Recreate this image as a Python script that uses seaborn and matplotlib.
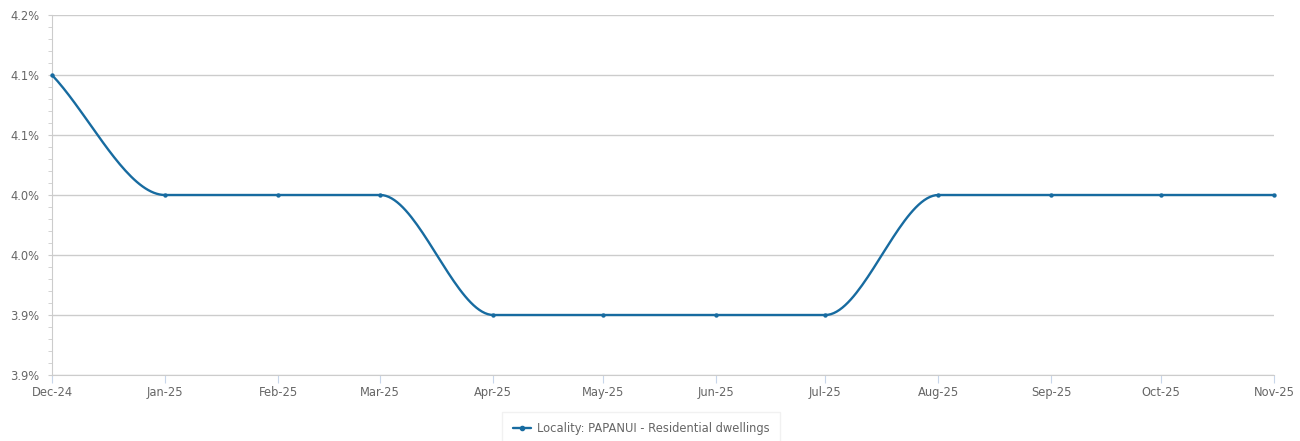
import numpy as np
import pandas as pd
import seaborn as sns
import matplotlib.pyplot as plt
import matplotlib.dates as mdates
from matplotlib.ticker import FixedLocator, MultipleLocator

months = ["2024-12-01", "2025-01-01", "2025-02-01", "2025-03-01", "2025-04-01",
          "2025-05-01", "2025-06-01", "2025-07-01", "2025-08-01", "2025-09-01",
          "2025-10-01", "2025-11-01"]
rate = [4.15, 4.05, 4.05, 4.05, 3.95, 3.95, 3.95, 3.95, 4.05, 4.05, 4.05, 4.05]
y_ticks = [3.90, 3.95, 4.00, 4.05, 4.10, 4.15, 4.20]
y_labels = ["3.9%", "3.9%", "4.0%", "4.0%", "4.1%", "4.1%", "4.2%"]
series_name = "Locality: PAPANUI - Residential dwellings"

line_col = "#176ba0"
grid_col = "#cccccc"
text_col = "#666666"


def monotone(x, y, n=40):
    # monotone cubic (Fritsch-Carlson) so the line doesn't overshoot
    x = np.asarray(x, float)
    y = np.asarray(y, float)
    h = np.diff(x)
    d = np.diff(y) / h
    m = np.zeros_like(y)
    m[0], m[-1] = d[0], d[-1]
    for i in range(1, len(y) - 1):
        if d[i - 1] * d[i] > 0:
            m[i] = 2 / (1 / d[i - 1] + 1 / d[i])
    xs, ys = [], []
    for i in range(len(h)):
        t = np.linspace(0, 1, n, endpoint=False)
        h00 = 2 * t**3 - 3 * t**2 + 1
        h10 = t**3 - 2 * t**2 + t
        h01 = -2 * t**3 + 3 * t**2
        h11 = t**3 - t**2
        xs.append(x[i] + t * h[i])
        ys.append(h00 * y[i] + h10 * h[i] * m[i] + h01 * y[i + 1] + h11 * h[i] * m[i + 1])
    xs.append([x[-1]])
    ys.append([y[-1]])
    return np.concatenate(xs), np.concatenate(ys)


dates = pd.to_datetime(months)
pos = mdates.date2num(dates)
xs, ys = monotone(pos, rate)
smooth = pd.DataFrame({"x": mdates.num2date(xs), "y": ys})
pts = pd.DataFrame({"x": dates, "y": rate})

sns.set_style("white")
plt.rcParams["font.family"] = ["DejaVu Sans"]

fig = plt.figure(figsize=(13, 4.41), dpi=100)
ax = fig.add_axes([52 / 1300, 66 / 441, 1222 / 1300, 360 / 441])

sns.lineplot(data=smooth, x="x", y="y", ax=ax, color=line_col, linewidth=1.7,
             zorder=3, legend=False)
sns.scatterplot(data=pts, x="x", y="y", ax=ax, color=line_col, s=10,
                edgecolor=line_col, linewidth=0, zorder=4, legend=False,
                clip_on=False)

# legend handle with the little dot in the middle
handle = plt.Line2D([0, 1], [0, 0], color=line_col, lw=1.7, marker="o", markersize=3)
leg = fig.legend([handle], [series_name], loc="upper center",
                 bbox_to_anchor=(641 / 1300, 35 / 441), frameon=True,
                 fontsize=8.3, handlelength=1.6, borderpad=0.9, handletextpad=0.5,
                 fancybox=False)
leg.get_frame().set_edgecolor("#eeeeee")
for t in leg.get_texts():
    t.set_color(text_col)

ax.set_xlim(pos[0], pos[-1])
ax.set_ylim(3.90, 4.20)
ax.xaxis.set_major_locator(FixedLocator(pos))
ax.xaxis.set_major_formatter(mdates.DateFormatter("%b-%y"))
ax.yaxis.set_major_locator(FixedLocator(y_ticks))
ax.set_yticklabels(y_labels)
ax.yaxis.set_minor_locator(MultipleLocator(0.01))
ax.set_xlabel("")
ax.set_ylabel("")

ax.grid(axis="y", color=grid_col, linewidth=1)
ax.set_axisbelow(True)
for s in ["top", "right"]:
    ax.spines[s].set_visible(False)
ax.spines["left"].set_color(grid_col)
ax.spines["bottom"].set_color(grid_col)

ax.tick_params(axis="y", which="major", length=3, color=grid_col, labelsize=8.3,
               labelcolor=text_col, pad=6, left=True)
ax.tick_params(axis="y", which="minor", length=3, color=grid_col, left=True)
ax.tick_params(axis="x", length=6, color="#c8d6ea", labelsize=8.3,
               labelcolor=text_col, pad=2, bottom=True)

fig.savefig("out.png", dpi=100)
